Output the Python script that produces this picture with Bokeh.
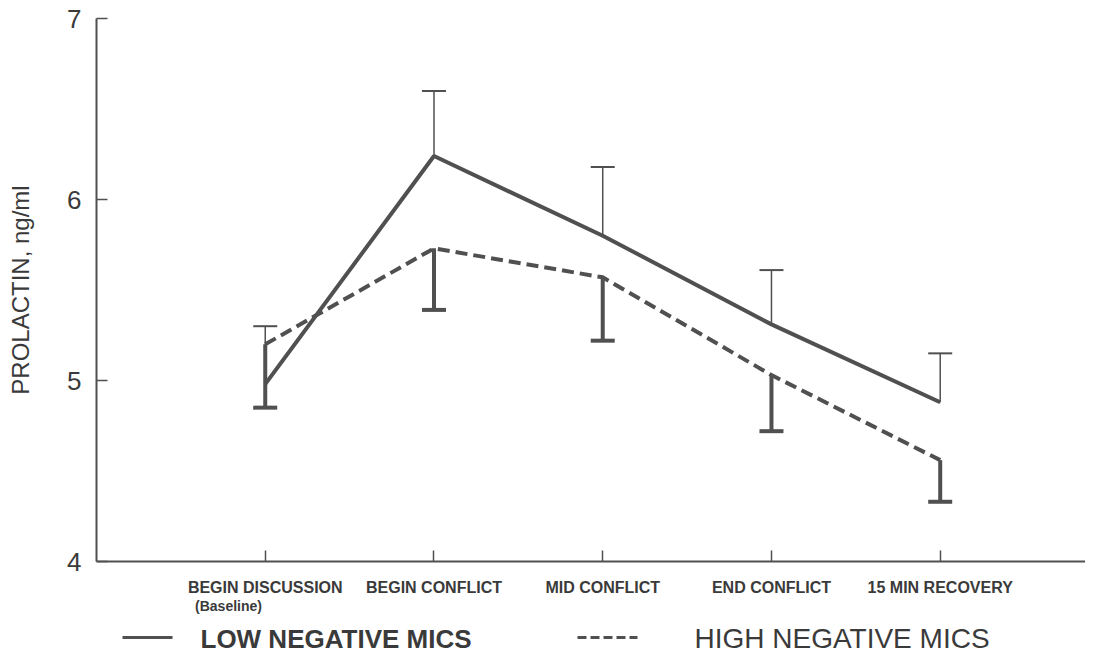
from bokeh.plotting import figure
from bokeh.models import (ColumnDataSource, Range1d, FixedTicker, Whisker, TeeHead)
from bokeh.layouts import column
from bokeh.embed import file_html
from bokeh.resources import INLINE
from bokeh.core.properties import value

categories = ["BEGIN DISCUSSION", "BEGIN CONFLICT", "MID CONFLICT", "END CONFLICT", "15 MIN RECOVERY"]
low_mean = [4.98, 6.24, 5.80, 5.31, 4.88]
low_upper = [5.30, 6.60, 6.18, 5.61, 5.15]
high_mean = [5.20, 5.73, 5.57, 5.03, 4.56]
high_lower = [4.85, 5.39, 5.22, 4.72, 4.33]
y_ticks = [4, 5, 6, 7]
series_names = ["LOW NEGATIVE MICS", "HIGH NEGATIVE MICS"]
baseline_note = "(Baseline)"

INK = "#505050"
TXT = "#3a3a3a"
FONT = "Liberation Sans"

xs = list(range(1, len(categories) + 1))

p = figure(width=1085, height=598, output_backend="svg", toolbar_location=None,
           x_range=Range1d(0, 5.861), y_range=Range1d(4, 7),
           min_border_left=96, min_border_right=0, min_border_top=18, min_border_bottom=36)
p.outline_line_color = None
p.xgrid.visible = False
p.ygrid.visible = False

low_src = ColumnDataSource(dict(x=xs, mean=low_mean, upper=low_upper))
high_src = ColumnDataSource(dict(x=xs, mean=high_mean, lower=high_lower))

p.line("x", "mean", source=low_src, line_width=4, line_color=INK)
p.line("x", "mean", source=high_src, line_width=4, line_color=INK, line_dash="12 6")

w_low = Whisker(source=low_src, base="x", lower="mean", upper="upper", dimension="height",
                line_color=INK, line_width=1.5,
                upper_head=TeeHead(size=24, line_color=INK, line_width=2), lower_head=None)
w_high = Whisker(source=high_src, base="x", lower="lower", upper="mean", dimension="height",
                 line_color=INK, line_width=4,
                 lower_head=TeeHead(size=24, line_color=INK, line_width=4), upper_head=None)
p.add_layout(w_low)
p.add_layout(w_high)

for ax in (p.xaxis[0], p.yaxis[0]):
    ax.axis_line_color = INK
    ax.axis_line_width = 2
    ax.major_tick_line_color = INK
    ax.major_tick_line_width = 1.5
    ax.major_tick_in = 11
    ax.major_tick_out = 0
    ax.minor_tick_line_color = None

p.xaxis.ticker = FixedTicker(ticks=xs)
p.xaxis.major_label_overrides = {x: c for x, c in zip(xs, categories)}
p.xaxis.major_label_text_font = FONT
p.xaxis.major_label_text_font_style = "bold"
p.xaxis.major_label_text_font_size = "16px"
p.xaxis.major_label_text_color = TXT
p.xaxis.major_label_standoff = 17

p.yaxis.ticker = FixedTicker(ticks=y_ticks)
p.yaxis.major_label_text_font = FONT
p.yaxis.major_label_text_font_size = "26px"
p.yaxis.major_label_text_color = TXT
p.yaxis.major_label_standoff = 15
p.yaxis.axis_label = "PROLACTIN, ng/ml"
p.yaxis.axis_label_text_font = FONT
p.yaxis.axis_label_text_font_style = "normal"
p.yaxis.axis_label_text_font_size = "24px"
p.yaxis.axis_label_text_color = TXT
p.yaxis.axis_label_standoff = 30

# legend strip below the chart (x in page pixels; frame aligned with main frame)
lg = figure(width=1085, height=55, output_backend="svg", toolbar_location=None,
            x_range=Range1d(99, 1088), y_range=Range1d(55, 0),
            x_axis_type=None, y_axis_type=None,
            min_border_left=96, min_border_right=0, min_border_top=0, min_border_bottom=0)
lg.outline_line_color = None
lg.xgrid.visible = False
lg.ygrid.visible = False

lg.text(x=[231], y=[7], text=[baseline_note], text_font=value(FONT), text_font_style="bold",
        text_font_size="14px", text_color=TXT, text_align="center", text_baseline="middle")
lg.line(x=[125, 175], y=[39, 39], line_width=3, line_color=INK)
lg.line(x=[580, 640], y=[39, 39], line_width=3, line_color=INK, line_dash="9 4")
lg.text(x=[203], y=[40], text=[series_names[0]], text_font=value(FONT), text_font_style="bold",
        text_font_size="26px", text_color=TXT, text_align="left", text_baseline="middle")
lg.text(x=[697], y=[40], text=[series_names[1]], text_font=value(FONT), text_font_style="normal",
        text_font_size="28px", text_color=TXT, text_align="left", text_baseline="middle")

layout = column(p, lg, spacing=0)
open("out.html", "w").write(file_html(layout, INLINE))
